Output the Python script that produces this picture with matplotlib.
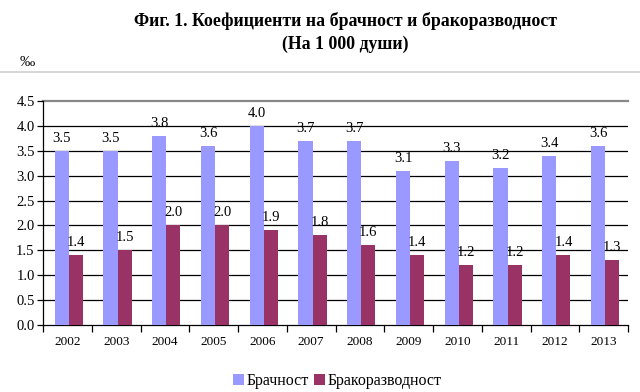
import matplotlib
matplotlib.use("Agg")
import matplotlib.pyplot as plt
from matplotlib.lines import Line2D
import numpy as np

years = ["2002", "2003", "2004", "2005", "2006", "2007", "2008", "2009", "2010", "2011", "2012", "2013"]
marriage = [3.5, 3.5, 3.8, 3.6, 4.0, 3.7, 3.7, 3.1, 3.3, 3.15, 3.4, 3.6]
marriage_labels = ["3.5", "3.5", "3.8", "3.6", "4.0", "3.7", "3.7", "3.1", "3.3", "3.2", "3.4", "3.6"]
divorce = [1.4, 1.5, 2.0, 2.0, 1.9, 1.8, 1.6, 1.4, 1.2, 1.2, 1.4, 1.3]
divorce_labels = ["1.4", "1.5", "2.0", "2.0", "1.9", "1.8", "1.6", "1.4", "1.2", "1.2", "1.4", "1.3"]
yticks = [0.0, 0.5, 1.0, 1.5, 2.0, 2.5, 3.0, 3.5, 4.0, 4.5]
series_names = ["Брачност", "Бракоразводност"]
title = "Фиг. 1. Коефициенти на брачност и бракоразводност\n(На 1 000 души)"

plt.rcParams['font.family'] = ['Liberation Serif', 'DejaVu Serif']

fig = plt.figure(figsize=(6.4, 3.92), dpi=100)
ax = fig.add_axes([43/640, 1-325/392, (628-43)/640, (325-101)/392])

x = np.arange(len(years))
w = 0.29
c1 = "#9999FF"
c2 = "#993366"
b1 = ax.bar(x - w/2 + 0.03, marriage, w, color=c1, label=series_names[0], zorder=3)
b2 = ax.bar(x + w/2 + 0.03, divorce, w, color=c2, label=series_names[1], zorder=3)

for xi, v, lab in zip(x, marriage, marriage_labels):
    ax.text(xi - w/2 + 0.03, v + 0.12, lab, ha='center', va='bottom', fontsize=10.5, zorder=4)
for xi, v, lab in zip(x, divorce, divorce_labels):
    ax.text(xi + w/2 + 0.03, v + 0.12, lab, ha='center', va='bottom', fontsize=10.5, zorder=4)

ax.set_xlim(-0.5, len(years) - 0.5)
ax.set_ylim(0, 4.5)
ax.set_yticks(yticks)
ax.set_yticklabels([f"{t:.1f}" for t in yticks], fontsize=10.5)
for t in yticks[1:-1]:
    ax.axhline(t, color='black', linewidth=0.9, zorder=1)
ax.axhline(4.5, color='#888888', linewidth=1.6, zorder=1, clip_on=False)

ax.set_xticks(x)
ax.set_xticklabels(years, fontsize=9.5)
ax.tick_params(axis='x', length=0, pad=8)
ax.set_xticks(np.arange(-0.5, len(years) + 0.5, 1), minor=True)
ax.tick_params(axis='x', which='minor', length=5, direction='out', width=0.9)
ax.tick_params(axis='y', length=4, direction='out', width=0.9, pad=2)

for s in ['top', 'right']:
    ax.spines[s].set_visible(False)
ax.spines['left'].set_linewidth(0.9)
ax.spines['bottom'].set_linewidth(0.9)

fig.text(345/640, 1-12/392, title, ha='center', va='top', fontsize=12.8, fontweight='bold', linespacing=1.45)
fig.text(20/640, 1-63/392, "‰", ha='left', va='center', fontsize=11)
fig.add_artist(Line2D([0, 1], [1-72/392, 1-72/392], color='#d0d0d0', linewidth=1.2))

leg = fig.legend(handles=[b1, b2], loc='center', bbox_to_anchor=(337/640, 1-381/392), ncol=2,
                 frameon=False, fontsize=11.5, handlelength=0.7, handleheight=0.7,
                 handletextpad=0.15, columnspacing=0.3, borderpad=0)

fig.savefig("out.png", dpi=100)
